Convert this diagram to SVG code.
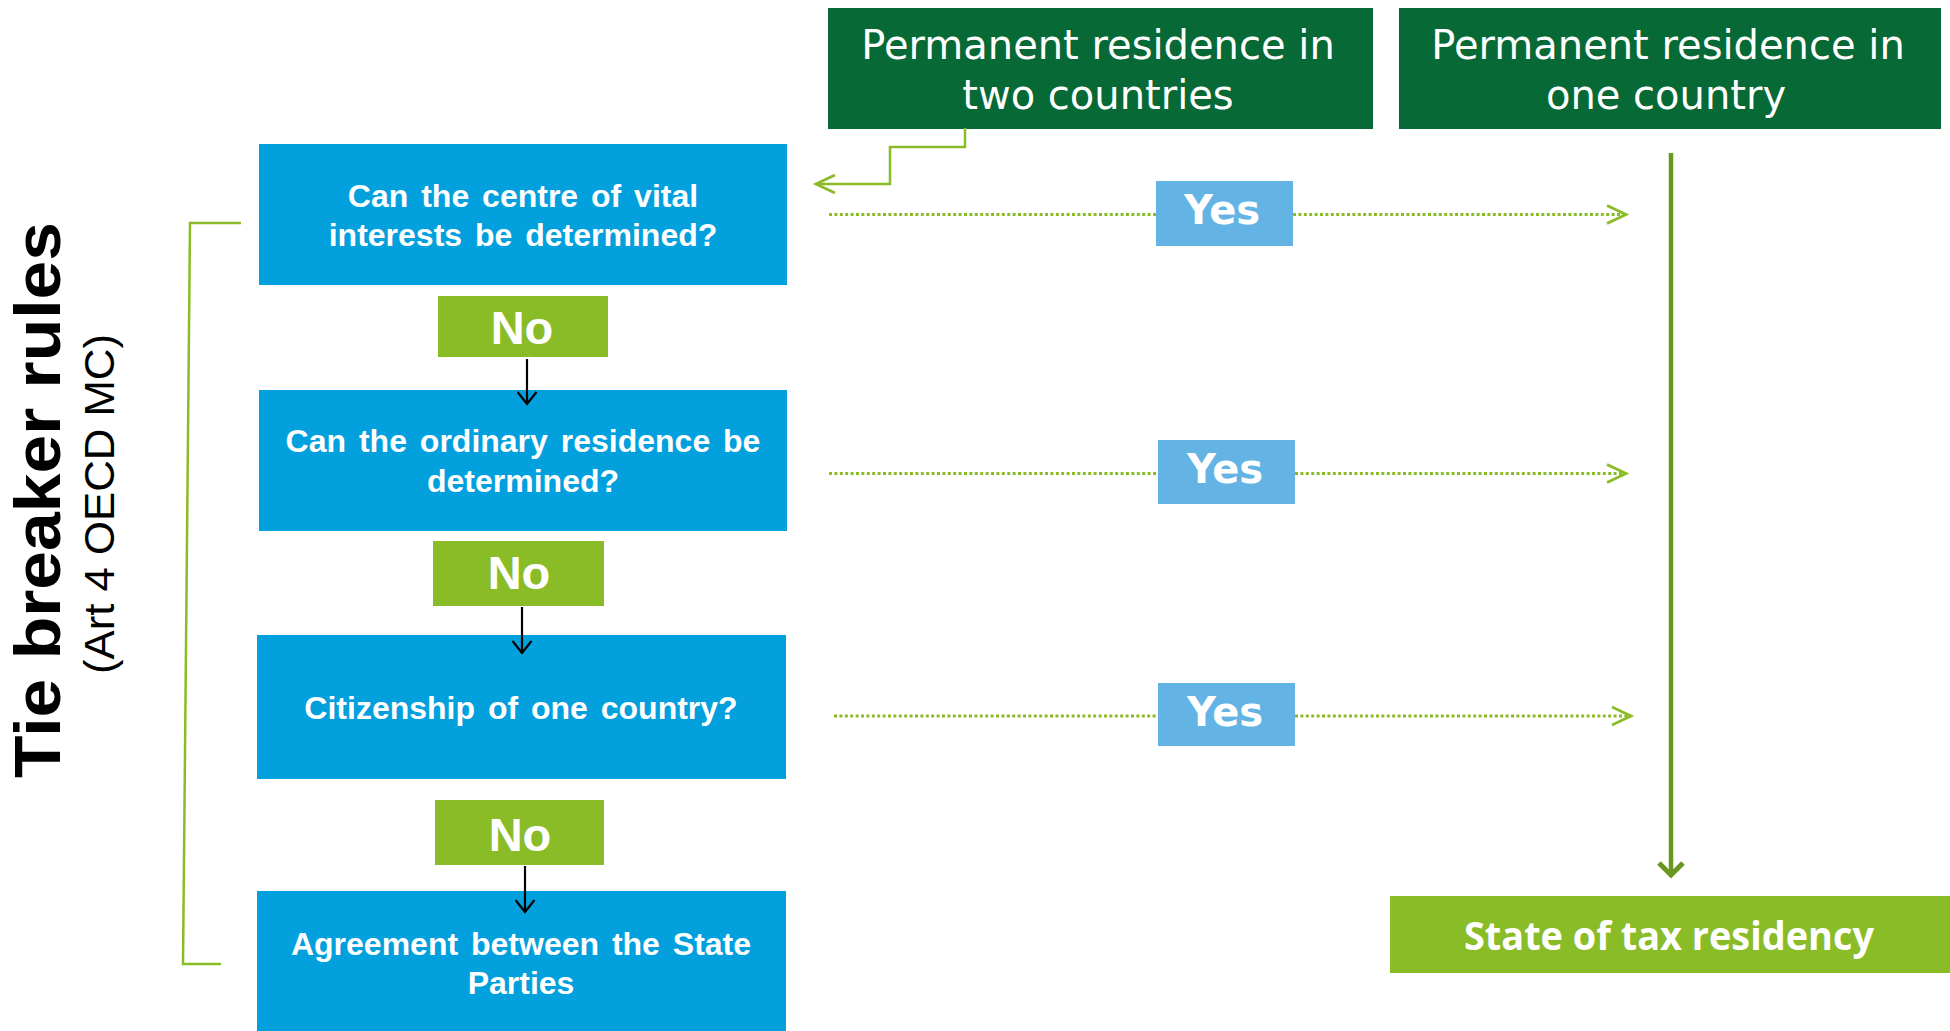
<svg xmlns="http://www.w3.org/2000/svg" width="1950" height="1031" viewBox="0 0 1950 1031">
  <defs>
    <style>
      .header { fill: #066936; }
      .header-text { font-family: "DejaVu Sans", Verdana, sans-serif; font-size: 40px; fill: #ffffff; text-anchor: middle; }
      .question { fill: #03a0de; }
      .question-text { font-family: "Liberation Sans", Arial, sans-serif; font-weight: bold; font-size: 32px; fill: #ffffff; text-anchor: middle; word-spacing: 4px; }
      .no { fill: #8abc28; }
      .no-text { font-family: "Liberation Sans", Arial, sans-serif; font-weight: bold; font-size: 47px; fill: #ffffff; text-anchor: middle; }
      .yes { fill: #63b4e4; }
      .yes-text { font-family: "DejaVu Sans", Verdana, sans-serif; font-weight: bold; font-size: 40px; fill: #ffffff; text-anchor: middle; }
      .result { fill: #8abc28; }
      .result-text { font-family: "Open Sans", "DejaVu Sans", sans-serif; font-weight: bold; font-size: 40px; fill: #ffffff; text-anchor: middle; }
      .flow { fill: none; stroke: #000000; stroke-width: 2.2; }
      .dotted { fill: none; stroke: #8abc28; stroke-width: 3; stroke-dasharray: 3 2.4; }
      .green-line { fill: none; stroke: #8abc28; stroke-width: 2.5; }
      .main-line { fill: none; stroke: #6a9623; stroke-width: 4.5; }
      .title { font-family: "Liberation Sans", Arial, sans-serif; font-weight: bold; font-size: 64px; fill: #000000; text-anchor: middle; }
      .subtitle { font-family: "Liberation Sans", Arial, sans-serif; font-size: 42px; fill: #000000; text-anchor: middle; }
    </style>
    <marker id="head-black" markerUnits="userSpaceOnUse" markerWidth="26" markerHeight="26" refX="20" refY="13" orient="auto">
      <path d="M8,3.5 L20,13 L8,22.5" fill="none" stroke="#000000" stroke-width="2.2"/>
    </marker>
    <marker id="head-green" markerUnits="userSpaceOnUse" markerWidth="26" markerHeight="26" refX="21" refY="13" orient="auto">
      <path d="M2,4 L21,13 L2,22" fill="none" stroke="#8abc28" stroke-width="2.8"/>
    </marker>
    <marker id="head-main" markerUnits="userSpaceOnUse" markerWidth="32" markerHeight="32" refX="24" refY="16" orient="auto">
      <path d="M12,4 L24,16 L12,28" fill="none" stroke="#6a9623" stroke-width="5"/>
    </marker>
  </defs>

  <rect width="1950" height="1031" fill="#ffffff"/>

  <!-- side title -->
  <g id="title">
    <text class="title" transform="translate(60,500) rotate(-90)" textLength="556" lengthAdjust="spacingAndGlyphs">Tie breaker rules</text>
    <text class="subtitle" transform="translate(114,504) rotate(-90)" textLength="340" lengthAdjust="spacingAndGlyphs">(Art 4 OECD MC)</text>
  </g>

  <!-- headers -->
  <g id="two-countries">
    <rect class="header" x="828" y="8" width="545" height="121"/>
    <text class="header-text" x="1098" y="59">Permanent residence in</text>
    <text class="header-text" x="1098" y="109">two countries</text>
  </g>
  <g id="one-country">
    <rect class="header" x="1399" y="8" width="542" height="121"/>
    <text class="header-text" x="1668" y="59">Permanent residence in</text>
    <text class="header-text" x="1666" y="109">one country</text>
  </g>

  <!-- question boxes -->
  <g id="vital-interests">
    <rect class="question" x="259" y="144" width="528" height="141"/>
    <text class="question-text" x="523" y="207">Can the centre of vital</text>
    <text class="question-text" x="523" y="246">interests be determined?</text>
  </g>
  <g id="no1">
    <rect class="no" x="438" y="296" width="170" height="61"/>
    <text class="no-text" x="522" y="344">No</text>
  </g>
  <g id="ordinary-residence">
    <rect class="question" x="259" y="390" width="528" height="141"/>
    <text class="question-text" x="523" y="452">Can the ordinary residence be</text>
    <text class="question-text" x="523" y="492">determined?</text>
  </g>
  <g id="no2">
    <rect class="no" x="433" y="541" width="171" height="65"/>
    <text class="no-text" x="519" y="589">No</text>
  </g>
  <g id="citizenship">
    <rect class="question" x="257" y="635" width="529" height="144"/>
    <text class="question-text" x="521" y="719">Citizenship of one country?</text>
  </g>
  <g id="no3">
    <rect class="no" x="435" y="800" width="169" height="65"/>
    <text class="no-text" x="520" y="851">No</text>
  </g>
  <g id="agreement">
    <rect class="question" x="257" y="891" width="529" height="145"/>
    <text class="question-text" x="521" y="955">Agreement between the State</text>
    <text class="question-text" x="521" y="994">Parties</text>
  </g>

  <!-- yes labels -->
  <g id="yes1">
    <rect class="yes" x="1156" y="181" width="137" height="65"/>
    <text class="yes-text" x="1222" y="224">Yes</text>
  </g>
  <g id="yes2">
    <rect class="yes" x="1158" y="440" width="137" height="64"/>
    <text class="yes-text" x="1225" y="483">Yes</text>
  </g>
  <g id="yes3">
    <rect class="yes" x="1158" y="683" width="137" height="63"/>
    <text class="yes-text" x="1225" y="726">Yes</text>
  </g>

  <!-- result -->
  <g id="state-of-tax-residency">
    <rect class="result" x="1390" y="896" width="560" height="77"/>
    <text class="result-text" x="1669" y="950" textLength="410" lengthAdjust="spacingAndGlyphs">State of tax residency</text>
  </g>

  <!-- connectors, drawn last so the arrowheads sit on top of the boxes -->
  <g id="connectors">
    <path id="bracket" class="green-line" d="M241,223 H190 L183,964 H221"/>
    <path id="two-countries-to-vital" class="green-line" d="M965,128 V147 H890 V184 H816" marker-end="url(#head-green)"/>
    <path id="vital-to-no1" class="flow" d="M527,359 V404" marker-end="url(#head-black)"/>
    <path id="no2-to-citizenship" class="flow" d="M522,607 V653" marker-end="url(#head-black)"/>
    <path id="no3-to-agreement" class="flow" d="M525,866 V912" marker-end="url(#head-black)"/>
    <path id="yes1-in" class="dotted" d="M829,214.5 H1156"/>
    <path id="yes1-out" class="dotted" d="M1293,214.5 H1626" marker-end="url(#head-green)"/>
    <path id="yes2-in" class="dotted" d="M829,473.5 H1158"/>
    <path id="yes2-out" class="dotted" d="M1295,473.5 H1626" marker-end="url(#head-green)"/>
    <path id="yes3-in" class="dotted" d="M834,716 H1158"/>
    <path id="yes3-out" class="dotted" d="M1295,716 H1631" marker-end="url(#head-green)"/>
    <path id="one-country-to-state" class="main-line" d="M1671,153 V875" marker-end="url(#head-main)"/>
  </g>
</svg>
